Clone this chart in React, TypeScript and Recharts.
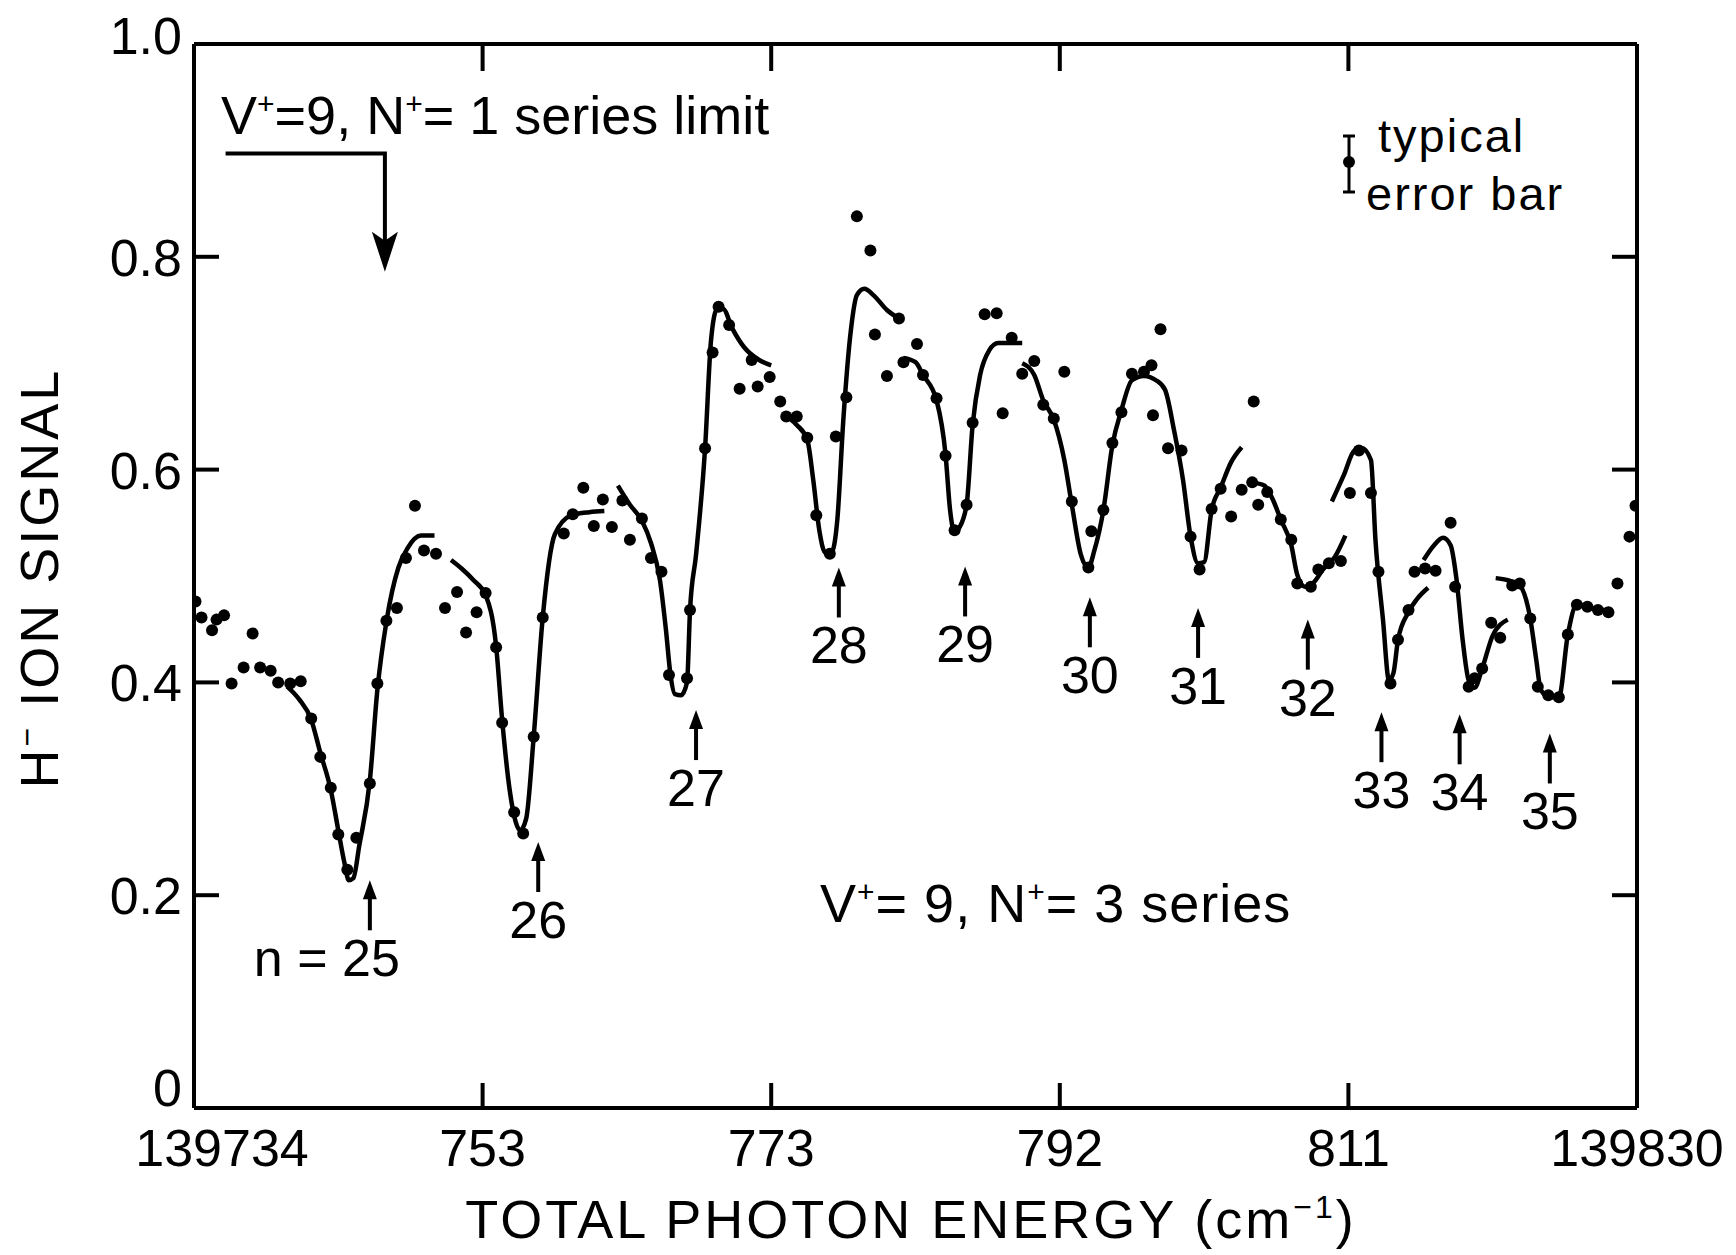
import React from "react";
import { ComposedChart, Line, Scatter, XAxis, YAxis } from "recharts";

const FONT = "'Liberation Sans', Arial, sans-serif";
const INK = "#000";

// axes
const energyTicks = [139734, 139753.2, 139772.4, 139791.6, 139810.8, 139830];
const energyTickLabels = ["139734", "753", "773", "792", "811", "139830"];
const signalTicks = [0, 0.2, 0.4, 0.6, 0.8, 1.0];
const signalTickLabels = ["0", "0.2", "0.4", "0.6", "0.8", "1.0"];

// measured H- signal (dots)
const measured: [number, number][] = [
  [139734.1, 0.476], [139734.5, 0.461], [139735.2, 0.449], [139735.5, 0.459], [139736.0, 0.463],
  [139737.9, 0.446], [139736.5, 0.399], [139737.3, 0.414], [139738.4, 0.414], [139739.1, 0.411],
  [139739.6, 0.4], [139740.4, 0.399], [139741.1, 0.401], [139741.8, 0.366], [139742.4, 0.33],
  [139743.1, 0.301], [139743.6, 0.257], [139744.2, 0.224], [139744.8, 0.254], [139745.7, 0.305],
  [139746.2, 0.399], [139746.8, 0.458], [139747.5, 0.47], [139748.1, 0.517], [139748.7, 0.566],
  [139749.3, 0.524], [139750.1, 0.521], [139750.7, 0.47], [139751.5, 0.485], [139752.1, 0.447],
  [139752.8, 0.466], [139753.4, 0.484], [139754.1, 0.433], [139754.5, 0.362], [139755.3, 0.278],
  [139755.9, 0.258], [139756.6, 0.349], [139757.2, 0.461], [139758.6, 0.54], [139759.2, 0.558],
  [139759.9, 0.583], [139760.6, 0.547], [139761.2, 0.572], [139761.8, 0.546], [139762.5, 0.571],
  [139763.0, 0.534], [139763.8, 0.554], [139764.4, 0.517], [139765.1, 0.504], [139765.6, 0.407],
  [139766.8, 0.404], [139767.0, 0.468], [139768.0, 0.62], [139768.5, 0.71], [139768.9, 0.753],
  [139769.6, 0.736], [139770.3, 0.676], [139771.1, 0.703], [139771.5, 0.678], [139772.3, 0.687],
  [139773.0, 0.664], [139773.4, 0.65], [139774.1, 0.65], [139774.8, 0.63], [139775.4, 0.557],
  [139776.3, 0.521], [139776.7, 0.631], [139777.4, 0.668], [139778.1, 0.838], [139779.0, 0.806],
  [139779.3, 0.727], [139780.1, 0.688], [139780.9, 0.742], [139781.2, 0.701], [139782.1, 0.718],
  [139782.5, 0.689], [139783.4, 0.667], [139784.0, 0.613], [139784.6, 0.543], [139785.4, 0.567],
  [139785.8, 0.644], [139786.6, 0.746], [139787.4, 0.747], [139787.8, 0.653], [139788.4, 0.724],
  [139789.1, 0.69], [139789.9, 0.702], [139790.5, 0.661], [139791.2, 0.648], [139791.9, 0.692],
  [139792.4, 0.57], [139793.5, 0.508], [139793.7, 0.542], [139794.5, 0.562], [139795.1, 0.625],
  [139795.7, 0.654], [139796.4, 0.69], [139797.2, 0.692], [139797.7, 0.698], [139797.8, 0.651],
  [139798.3, 0.732], [139798.8, 0.62], [139799.7, 0.618], [139800.3, 0.537], [139800.9, 0.506],
  [139801.7, 0.563], [139802.3, 0.582], [139803.0, 0.556], [139803.7, 0.581], [139804.8, 0.567],
  [139804.5, 0.664], [139804.4, 0.588], [139805.4, 0.579], [139806.3, 0.553], [139807.0, 0.534],
  [139807.4, 0.493], [139808.3, 0.49], [139808.8, 0.506], [139809.5, 0.512], [139810.3, 0.514],
  [139810.9, 0.578], [139811.5, 0.618], [139812.3, 0.578], [139812.8, 0.504], [139813.6, 0.399],
  [139814.1, 0.44], [139814.8, 0.468], [139815.2, 0.504], [139815.9, 0.507], [139816.6, 0.505],
  [139817.6, 0.55], [139817.9, 0.49], [139818.8, 0.396], [139819.2, 0.404], [139819.7, 0.413],
  [139820.3, 0.456], [139820.9, 0.442], [139821.7, 0.491], [139822.2, 0.493], [139822.9, 0.46],
  [139823.4, 0.396], [139824.1, 0.388], [139824.8, 0.386], [139825.4, 0.445], [139826.0, 0.473],
  [139826.7, 0.471], [139827.4, 0.468], [139828.1, 0.466], [139828.7, 0.493], [139829.5, 0.537],
  [139829.9, 0.566],
];

// calculated curve, drawn in separate pieces
const fitA: [number, number][] = [
  [139740.2, 0.396], [139741.0, 0.384], [139741.8, 0.365], [139742.4, 0.334], [139743.1, 0.299],
  [139743.6, 0.261], [139744.0, 0.231], [139744.3, 0.214], [139744.6, 0.216], [139745.0, 0.247],
  [139745.7, 0.308], [139746.2, 0.393], [139746.8, 0.457], [139747.6, 0.508], [139748.2, 0.526],
  [139749.1, 0.538], [139750.0, 0.538],
];
const fitB: [number, number][] = [
  [139751.1, 0.515], [139751.8, 0.507], [139752.6, 0.496], [139753.4, 0.482], [139754.1, 0.434],
  [139754.5, 0.365], [139755.0, 0.299], [139755.4, 0.269], [139755.7, 0.261], [139756.1, 0.272],
  [139756.6, 0.349], [139757.2, 0.461], [139758.0, 0.539], [139759.1, 0.557], [139760.3, 0.56],
  [139761.3, 0.561],
];
const fitC: [number, number][] = [
  [139762.2, 0.585], [139763.0, 0.567], [139763.8, 0.552], [139764.4, 0.531], [139765.0, 0.496],
  [139765.4, 0.449], [139765.7, 0.407], [139766.0, 0.389], [139766.4, 0.388], [139766.8, 0.4],
  [139767.0, 0.468], [139767.4, 0.52], [139768.0, 0.62], [139768.4, 0.722], [139768.8, 0.751],
  [139769.2, 0.751], [139769.8, 0.733], [139770.6, 0.715], [139771.6, 0.703], [139772.4, 0.698],
];
const fitD: [number, number][] = [
  [139773.3, 0.651], [139774.1, 0.642], [139774.8, 0.628], [139775.2, 0.59], [139775.6, 0.543],
  [139776.0, 0.522], [139776.4, 0.522], [139776.8, 0.553], [139777.2, 0.647], [139777.7, 0.731],
  [139778.1, 0.764], [139778.6, 0.77], [139779.2, 0.764], [139780.1, 0.75], [139780.9, 0.742],
];
const fitE: [number, number][] = [
  [139781.2, 0.705], [139782.0, 0.701], [139782.5, 0.689], [139783.4, 0.665], [139784.0, 0.614],
  [139784.3, 0.562], [139784.6, 0.541], [139784.9, 0.545], [139785.4, 0.567], [139785.8, 0.642],
  [139786.3, 0.689], [139786.9, 0.712], [139787.5, 0.719], [139789.1, 0.719],
];
const fitF: [number, number][] = [
  [139789.1, 0.7], [139789.9, 0.689], [139790.5, 0.665], [139791.2, 0.647], [139791.9, 0.609],
  [139792.4, 0.567], [139793.0, 0.52], [139793.5, 0.508], [139793.9, 0.524], [139794.5, 0.562],
  [139795.1, 0.623], [139795.7, 0.656], [139796.4, 0.684], [139797.2, 0.688], [139798.0, 0.684],
  [139798.6, 0.675], [139799.2, 0.637], [139799.8, 0.59], [139800.3, 0.537], [139800.8, 0.512],
  [139801.2, 0.513], [139801.7, 0.562], [139802.3, 0.583], [139803.0, 0.607], [139803.7, 0.621],
];
const fitG: [number, number][] = [
  [139804.4, 0.588], [139805.2, 0.585], [139805.8, 0.571], [139806.3, 0.553], [139807.0, 0.529],
  [139807.4, 0.501], [139807.9, 0.49], [139808.5, 0.494], [139809.1, 0.506], [139809.9, 0.518],
  [139810.6, 0.538],
];
const fitH: [number, number][] = [
  [139809.7, 0.57], [139810.5, 0.595], [139811.2, 0.618], [139811.7, 0.62], [139812.3, 0.609],
  [139812.6, 0.534], [139813.1, 0.459], [139813.5, 0.402], [139813.8, 0.409], [139814.1, 0.44],
  [139814.8, 0.466], [139815.4, 0.479], [139816.1, 0.489],
];
const fitI: [number, number][] = [
  [139815.8, 0.515], [139816.5, 0.529], [139817.1, 0.536], [139817.6, 0.529], [139818.0, 0.496],
  [139818.4, 0.44], [139818.8, 0.402], [139819.2, 0.395], [139819.7, 0.413], [139820.4, 0.444],
  [139821.4, 0.459],
];
const fitJ: [number, number][] = [
  [139820.6, 0.498], [139821.4, 0.496], [139822.2, 0.491], [139822.9, 0.46], [139823.3, 0.421],
  [139823.6, 0.393], [139824.2, 0.386], [139824.8, 0.386], [139825.4, 0.445], [139826.0, 0.473],
  [139826.7, 0.471], [139827.7, 0.468], [139828.3, 0.468],
];

// V+=9, N+=3 resonances: label, energy, signal at arrow tip
const resonanceLabels = ["n = 25", "26", "27", "28", "29", "30", "31", "32", "33", "34", "35"];
const resonanceEnergy = [139745.7, 139756.9, 139767.4, 139776.9, 139785.3, 139793.6, 139800.8, 139808.1, 139813.0, 139818.2, 139824.2];
const resonanceTip = [0.214, 0.25, 0.374, 0.508, 0.509, 0.48, 0.47, 0.459, 0.372, 0.37, 0.352];

// V+=9, N+=1 series limit marker
const limitBracket: [number, number][] = [[139736.1, 0.897], [139746.7, 0.897], [139746.7, 0.81]];
const limitTip: [number, number][] = [[139746.7, 0.786]];

const pts = (rows: [number, number][]) => rows.map(([x, y]) => ({ x, y }));
const fits = [fitA, fitB, fitC, fitD, fitE, fitF, fitG, fitH, fitI, fitJ].map(pts);
const resonances = resonanceLabels.map((label, i) => ({ x: resonanceEnergy[i], y: resonanceTip[i], label }));

function LeftTick({ x, y, payload }: any) {
  const i = signalTicks.indexOf(payload.value);
  const shift = payload.value === 0 ? -21 : payload.value === 1 ? -9 : 0;
  return (
    <g>
      <line x1={x} y1={y} x2={x + 25} y2={y} stroke={INK} strokeWidth={4} />
      <text x={x - 12} y={y + 19 + shift} textAnchor="end" fontSize={52} fontFamily={FONT} fill={INK}>
        {signalTickLabels[i]}
      </text>
    </g>
  );
}

function RightTick({ x, y }: any) {
  return <line x1={x} y1={y} x2={x - 25} y2={y} stroke={INK} strokeWidth={4} />;
}

function BottomTick({ x, y, payload }: any) {
  const i = energyTicks.indexOf(payload.value);
  const dx = i === 0 ? 28 : 0;
  return (
    <g>
      <line x1={x} y1={y} x2={x} y2={y - 25} stroke={INK} strokeWidth={4} />
      <text x={x + dx} y={y + 58} textAnchor="middle" fontSize={52} fontFamily={FONT} fill={INK}>
        {energyTickLabels[i]}
      </text>
    </g>
  );
}

function TopTick({ x, y }: any) {
  return <line x1={x} y1={y} x2={x} y2={y + 27} stroke={INK} strokeWidth={4} />;
}

const Dot = ({ cx, cy }: any) => <circle cx={cx} cy={cy} r={6} fill={INK} />;

const ResonanceArrow = ({ cx, cy, payload }: any) => {
  const isFirst = payload.label.startsWith("n");
  return (
    <g>
      <line x1={cx} y1={cy + 12} x2={cx} y2={cy + 50} stroke={INK} strokeWidth={4} />
      <polygon points={`${cx},${cy} ${cx - 7},${cy + 19} ${cx + 7},${cy + 19}`} fill={INK} />
      <text
        x={isFirst ? cx + 30 : cx}
        y={cy + 96}
        textAnchor={isFirst ? "end" : "middle"}
        fontSize={52}
        fontFamily={FONT}
        fill={INK}
      >
        {payload.label}
      </text>
    </g>
  );
};

const LimitHead = ({ cx, cy }: any) => (
  <polygon points={`${cx},${cy} ${cx - 13},${cy - 40} ${cx},${cy - 31} ${cx + 13},${cy - 40}`} fill={INK} />
);

const Sup = ({ children }: { children: React.ReactNode }) => (
  <tspan dy={-20} fontSize={30}>{children}</tspan>
);

const axisLine = { stroke: INK, strokeWidth: 4 };

export default function App() {
  return (
    <div style={{ position: "absolute", left: 0, top: 0, width: 1736, height: 1255, background: "#fff" }}>
      <ComposedChart width={1736} height={1255} margin={{ top: 43, right: 98, bottom: 146, left: 193 }}>
        <XAxis
          xAxisId={0}
          dataKey="x"
          type="number"
          domain={[139734, 139830]}
          ticks={energyTicks}
          allowDataOverflow
          height={1}
          tickSize={0}
          tickMargin={0}
          tickLine={false}
          tick={<BottomTick />}
          axisLine={axisLine}
          interval={0}
        />
        <XAxis
          xAxisId="top"
          orientation="top"
          dataKey="x"
          type="number"
          domain={[139734, 139830]}
          ticks={energyTicks}
          allowDataOverflow
          height={1}
          tickSize={0}
          tickMargin={0}
          tickLine={false}
          tick={<TopTick />}
          axisLine={axisLine}
          interval={0}
        />
        <YAxis
          yAxisId={0}
          dataKey="y"
          type="number"
          domain={[0, 1]}
          ticks={signalTicks}
          allowDataOverflow
          width={1}
          tickSize={0}
          tickMargin={0}
          tickLine={false}
          tick={<LeftTick />}
          axisLine={axisLine}
          interval={0}
        />
        <YAxis
          yAxisId="right"
          orientation="right"
          dataKey="y"
          type="number"
          domain={[0, 1]}
          ticks={signalTicks}
          allowDataOverflow
          width={1}
          tickSize={0}
          tickMargin={0}
          tickLine={false}
          tick={<RightTick />}
          axisLine={axisLine}
          interval={0}
        />
        {fits.map((seg, i) => (
          <Line
            key={i}
            data={seg}
            dataKey="y"
            type="monotone"
            stroke={INK}
            strokeWidth={4.5}
            dot={false}
            activeDot={false}
            isAnimationActive={false}
          />
        ))}
        <Line
          data={pts(limitBracket)}
          dataKey="y"
          type="linear"
          stroke={INK}
          strokeWidth={4}
          dot={false}
          activeDot={false}
          isAnimationActive={false}
        />
        <Scatter data={pts(limitTip)} shape={<LimitHead />} isAnimationActive={false} />
        <Scatter data={pts(measured)} shape={<Dot />} isAnimationActive={false} />
        <Scatter data={resonances} shape={<ResonanceArrow />} isAnimationActive={false} />
      </ComposedChart>
      <svg
        width={1736}
        height={1255}
        style={{ position: "absolute", left: 0, top: 0, pointerEvents: "none" }}
        fontFamily={FONT}
        fill={INK}
      >
        <text x={221} y={134} fontSize={54}>
          V<Sup>+</Sup>
          <tspan dy={20}>=9, N</tspan>
          <Sup>+</Sup>
          <tspan dy={20}>= 1 series limit</tspan>
        </text>
        <text x={820} y={922} fontSize={54} letterSpacing={1}>
          V<Sup>+</Sup>
          <tspan dy={20}>= 9, N</tspan>
          <Sup>+</Sup>
          <tspan dy={20}>= 3 series</tspan>
        </text>
        <line x1={1349} y1={136} x2={1349} y2={192} stroke={INK} strokeWidth={3} />
        <line x1={1343} y1={136} x2={1355} y2={136} stroke={INK} strokeWidth={3} />
        <line x1={1343} y1={192} x2={1355} y2={192} stroke={INK} strokeWidth={3} />
        <circle cx={1349} cy={162} r={6} />
        <text x={1378} y={152} fontSize={47} letterSpacing={2}>typical</text>
        <text x={1366} y={210} fontSize={47} letterSpacing={2}>error bar</text>
        <text x={58} y={578} fontSize={54} textAnchor="middle" letterSpacing={3} transform="rotate(-90 58 578)">
          H<tspan dy={-20} fontSize={32}>−</tspan>
          <tspan dy={20}> ION SIGNAL</tspan>
        </text>
        <text x={911} y={1238} fontSize={54} textAnchor="middle" letterSpacing={3}>
          TOTAL PHOTON ENERGY (cm<tspan dy={-20} fontSize={32}>−1</tspan>
          <tspan dy={20}>)</tspan>
        </text>
      </svg>
    </div>
  );
}
